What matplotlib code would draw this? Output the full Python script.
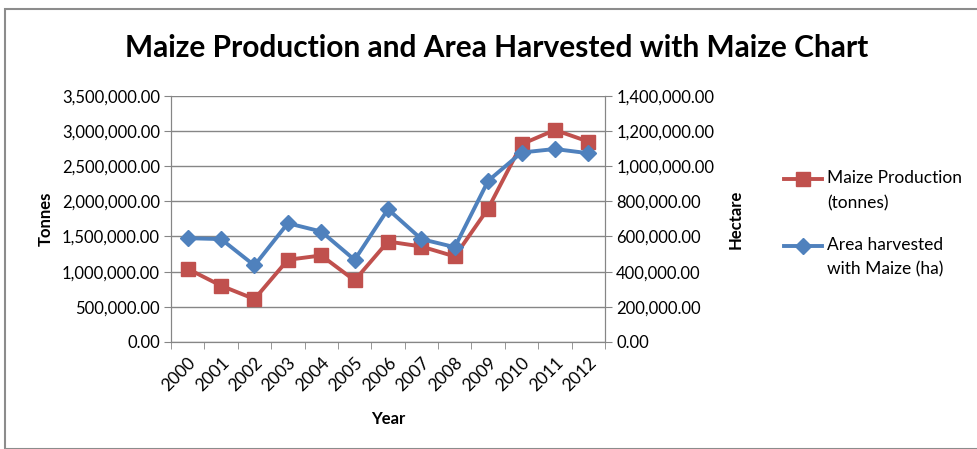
import matplotlib
matplotlib.use("Agg")
import matplotlib.pyplot as plt
from matplotlib.patches import Rectangle
from matplotlib.ticker import FuncFormatter, FixedLocator
from matplotlib.legend_handler import HandlerLine2D
from matplotlib.lines import Line2D
import numpy as np

years = ["2000", "2001", "2002", "2003", "2004", "2005", "2006",
         "2007", "2008", "2009", "2010", "2011", "2012"]
production = [1040000, 800000, 610000, 1168000, 1230000, 875000, 1428000,
              1357000, 1216000, 1897000, 2810000, 3013000, 2848000]
area = [590000, 585000, 435000, 675000, 628000, 467000, 755000,
        585000, 539000, 916000, 1077000, 1097000, 1073000]

plt.rcParams['font.family'] = ['Lato', 'DejaVu Sans']

red = '#C0504D'
blue = '#4F81BD'
grid_c = '#868686'


class TopLineHandler(HandlerLine2D):
    def __init__(self, offset, **kw):
        super().__init__(**kw)
        self.offset = offset

    def create_artists(self, legend, orig_handle, xdescent, ydescent,
                       width, height, fontsize, trans):
        arts = super().create_artists(legend, orig_handle, xdescent, ydescent,
                                      width, height, fontsize, trans)
        for a in arts:
            if isinstance(a, Line2D):
                a.set_ydata(np.asarray(a.get_ydata()) + self.offset)
        return arts


fig = plt.figure(figsize=(9.77, 4.49), dpi=100)
W, H = 977, 449
fig.patches.append(Rectangle((5 / W, 0), 1.2, 1 - 9 / H, transform=fig.transFigure,
                             fill=False, edgecolor='#8c8c8c', linewidth=1.5))

ax = fig.add_axes([171 / W, 1 - 342 / H, (605 - 171) / W, (342 - 95.7) / H])
ax2 = ax.twinx()

x = np.arange(len(years))
fmt = FuncFormatter(lambda v, p: f"{v:,.2f}")

ax.plot(x, production, color=red, lw=2.8, marker='s', ms=10.5, zorder=3,
        label='Maize Production\n(tonnes)')
ax2.plot(x, area, color=blue, lw=2.8, marker='D', ms=8.5, zorder=3,
         label='Area harvested\nwith Maize (ha)')

ax.set_xlim(-0.5, 12.5)
ax.set_ylim(0, 3500000)
ax2.set_ylim(0, 1400000)
ax.set_yticks(np.arange(0, 3500001, 500000))
ax2.set_yticks(np.arange(0, 1400001, 200000))
ax.yaxis.set_major_formatter(fmt)
ax2.yaxis.set_major_formatter(fmt)

ax.set_xticks(x)
ax.set_xticklabels(years, rotation=45, ha='right', va='top', rotation_mode='anchor')
ax.xaxis.set_minor_locator(FixedLocator(np.arange(-0.5, 13, 1)))
ax.tick_params(axis='x', which='major', length=0, labelsize=12.5, pad=9)
ax.tick_params(axis='x', which='minor', length=5, color=grid_c)
ax.tick_params(axis='y', length=5, color=grid_c, labelsize=12, pad=3)
ax2.tick_params(axis='y', length=5, color=grid_c, labelsize=12, pad=3)

ax.grid(axis='y', color=grid_c, lw=1)
ax.set_axisbelow(True)
for a in (ax, ax2):
    a.spines['top'].set_visible(False)
    for s in ['left', 'right', 'bottom']:
        a.spines[s].set_color(grid_c)

ax.set_ylabel('Tonnes', fontsize=12, fontweight='bold', labelpad=6)
ax2.set_ylabel('Hectare', fontsize=12, fontweight='bold', labelpad=10)
ax.set_xlabel('Year', fontsize=12, fontweight='bold', labelpad=12)

fig.text(497 / W, 1 - 48 / H, 'Maize Production and Area Harvested with Maize Chart',
         ha='center', va='center', fontsize=21.5, fontweight='bold')

h1, l1 = ax.get_legend_handles_labels()
h2, l2 = ax2.get_legend_handles_labels()
hm = {h: TopLineHandler(offset=8.5) for h in h1 + h2}
leg = fig.legend(h1 + h2, l1 + l2, loc='center left',
                 bbox_to_anchor=(768 / W, 1 - 224 / H), frameon=False,
                 fontsize=12.5, handlelength=2.2, labelspacing=1.5,
                 handletextpad=0.3, handler_map=hm)
for t in leg.get_texts():
    t.set_linespacing(1.65)

fig.savefig('out.png', dpi=100)
